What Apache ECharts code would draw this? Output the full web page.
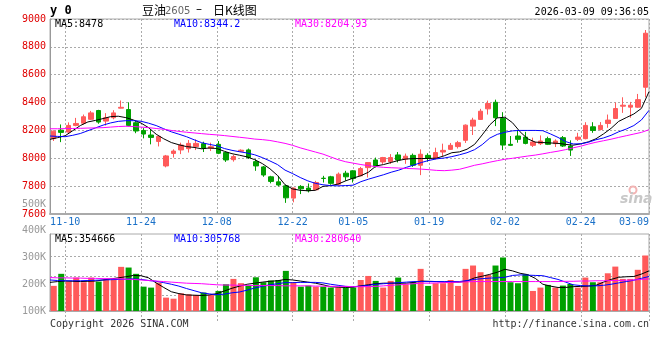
<!DOCTYPE html>
<html>
<head>
<meta charset="utf-8">
<script src="https://cdn.jsdelivr.net/npm/echarts@6/dist/echarts.min.js"></script>
<style>html,body{margin:0;padding:0;background:#fff;}#c{width:660px;height:360px;}</style>
</head>
<body>
<div id="c"></div>
<script>
const dates = ['11-06','11-07','11-10','11-11','11-12','11-13','11-14','11-17','11-18','11-19','11-20','11-21','11-24','11-25','11-26','11-27','11-28',
'12-01','12-02','12-03','12-04','12-05','12-08','12-09','12-10','12-11','12-12','12-15','12-16','12-17','12-18','12-19','12-22','12-23','12-24','12-25','12-26','12-29','12-30','12-31',
'01-05','01-06','01-07','01-08','01-09','01-12','01-13','01-14','01-15','01-16','01-19','01-20','01-21','01-22','01-23','01-26','01-27','01-28','01-29','01-30',
'02-02','02-03','02-04','02-05','02-06','02-09','02-10','02-11','02-12','02-13','02-24','02-25','02-26','02-27',
'03-02','03-03','03-04','03-05','03-06','03-09'];
const tickDates = ['11-10','11-24','12-08','12-22','01-05','01-19','02-02','02-24','03-09'];

const open = [8141,8202,8188,8236,8252,8280,8343,8267,8291,8360,
8350,8255,8200,8167,8121,7945,8035,8060,8069,8084,
8105,8072,8100,8041,7990,8050,8060,7976,7938,7867,
7831,7802,7714,7798,7786,7774,7857,7867,7814,7893,
7910,7874,7933,7988,7974,7976,8024,7993,8021,7950,
8021,7998,8045,8064,8084,8129,8231,8279,8355,8402,
8286,8100,8160,8152,8093,8105,8141,8105,8148,8088,
8136,8141,8226,8207,8250,8286,8374,8367,8367,8510];
const close = [8195,8186,8236,8250,8298,8326,8260,8291,8326,8366,
8236,8196,8174,8150,8157,8017,8052,8095,8107,8107,
8071,8083,8036,7988,8012,8058,8005,7945,7880,7834,
7808,7716,7786,7781,7767,7826,7855,7820,7886,7867,
7855,7926,7969,7945,8005,8005,7988,8015,7950,8029,
8000,8041,8057,8093,8112,8238,8274,8338,8393,8291,
8095,8093,8136,8107,8117,8124,8100,8124,8088,8059,
8152,8236,8200,8236,8274,8357,8381,8381,8421,8898];
const low = [8124,8116,8182,8230,8243,8275,8248,8235,8280,8358,
8230,8180,8143,8100,8085,7935,8005,8030,8041,8059,
8045,8052,8030,7974,7976,8045,7995,7910,7867,7820,
7798,7680,7684,7743,7755,7772,7826,7810,7805,7838,
7826,7872,7862,7933,7960,7960,7970,7960,7938,7879,
7976,7993,8017,8060,8070,8110,8167,8276,8314,8231,
8059,8088,8112,8100,8081,8095,8095,8081,8081,8017,
8124,8136,8183,8200,8219,8286,8326,8291,8362,8438];
const high = [8200,8243,8258,8290,8314,8340,8348,8324,8345,8415,
8402,8267,8217,8210,8160,8024,8064,8112,8131,8136,
8119,8112,8124,8048,8024,8064,8070,7993,7945,7874,
7874,7810,7790,7807,7819,7838,7874,7874,7898,7910,
7914,7938,7972,8005,8010,8030,8045,8034,8034,8064,
8036,8076,8105,8110,8125,8243,8291,8355,8414,8421,
8331,8160,8202,8190,8148,8164,8155,8136,8160,8129,
8183,8259,8259,8260,8314,8400,8438,8405,8462,8921];

const ma5 = [8136,8148,8162,8198,8235,8261,8272,8285,8299,8302,
8292,8275,8253,8220,8173,8140,8113,8097,8084,8078,
8068,8074,8070,8050,8033,8022,8010,7990,7962,7925,
7877,7810,7780,7770,7767,7770,7798,7804,7815,7838,
7858,7875,7900,7945,7955,7970,7985,7995,7998,7998,
7999,8001,8018,8040,8046,8065,8100,8168,8240,8290,
8295,8255,8190,8140,8116,8113,8110,8107,8100,8094,
8104,8118,8140,8175,8215,8265,8292,8318,8358,8478];
const ma10 = [8160,8157,8155,8165,8178,8198,8218,8238,8254,8265,
8270,8270,8266,8252,8235,8212,8190,8173,8155,8133,
8112,8100,8090,8070,8057,8047,8038,8025,8005,7981,
7955,7915,7890,7862,7838,7820,7810,7804,7802,7804,
7807,7832,7850,7866,7882,7900,7915,7935,7952,7970,
7985,7996,8002,8012,8025,8040,8062,8098,8145,8172,
8187,8197,8200,8200,8200,8198,8175,8150,8120,8103,
8104,8115,8133,8146,8165,8190,8210,8235,8275,8344];
const ma30 = [8212,8212,8213,8214,8215,8217,8218,8220,8224,8228,
8230,8228,8224,8220,8214,8208,8200,8193,8187,8182,
8177,8172,8168,8163,8157,8151,8145,8138,8134,8128,
8118,8107,8093,8075,8060,8045,8030,8010,7990,7975,
7965,7955,7947,7940,7935,7932,7930,7927,7925,7922,
7918,7913,7911,7915,7921,7935,7950,7960,7972,7983,
7993,8000,8008,8016,8023,8032,8042,8051,8062,8075,
8087,8102,8115,8126,8137,8150,8162,8174,8186,8205];

// volume in thousands (K)
const vol = [194,239,210,225,207.5,225,210,220,216,265,
262.5,239,191,187.5,206,150,146,166,162.5,160,
169,160,175,200,220,204,195,226,207.5,214,
216,250,207.5,191,195,191,191,187.5,187.5,187.5,
187.5,216,231,212.5,187.5,212.5,225,200,207.5,257.5,
193.75,203.75,203.75,216,193.75,257.5,270,245,235,270,
300,207.5,203.75,237.5,175,187.5,197.5,187.5,195,201,
187.5,225,207.5,207.5,241,266,220,220,254,307.5];
const volMa5 = [207,210,212,211,210,211,212,216,220,224,
228,233,232,224,205,188,172,165,160,159,
158,160,165,175,185,193,200,204,208,211,
213,218,216,212,208,204,198,191,189,188,
189,194,198,202,204,204,204,204,207,212,
211,210,208,208,208,212,224,230,237,245,
256,250,241,236,222,200,193,188,188,191,
192,193,196,208,218,226,228,229,238,250];
const volMa10 = [216,214,213,213,213,214,215,216,217,218,
219,220,218,214,211,206,200,193,184,176,
168,164,161,163,168,171,178,186,192,198,
202,206,206,207,207,207,205,200,196,192,
191,193,196,200,202,204,206,208,210,210,
210,210,210,210,210,214,218,221,223,224,
226,233,235,234,233,232,225,218,208,198,
195,194,194,196,200,205,210,215,222,229];
const volMa30 = [225,224,224,223,223,222,222,221,221,220,
219,218,216,214,212,210,208,206,204,203,
202,200,198,197,197,196,196,195,195,195,
195,194,194,194,194,193,193,192,192,192,
191,191,191,192,194,196,198,200,202,204,
204,205,206,207,208,209,210,210,210,210,
210,210,210,210,210,210,210,210,211,211,
212,212,213,213,214,214,215,216,218,220];

const RED = '#ff5a5a', GREEN = '#00a000';
const MONO = '"DejaVu Sans Mono", monospace';
const GRIDC = '#aaaaaa';
const dotted = {color: GRIDC, type: [2, 2], width: 1};
const showIdx = (i, v) => tickDates.indexOf(v) >= 0;

const chart = echarts.init(document.getElementById('c'), null, {renderer: 'canvas', width: 660, height: 360});

const txt = (text, x, y, fill, font, align) => ({
  type: 'text', x: x, y: y, silent: true, z: 100,
  style: {text: text, fill: fill, font: font, align: align || 'left', verticalAlign: 'middle'}
});

chart.setOption({
  animation: false,
  backgroundColor: '#fff',
  grid: [
    {left: 50, right: 11, top: 19, height: 195, show: true, borderColor: GRIDC, borderWidth: 1},
    {left: 50, right: 11, top: 204, height: 107, show: false},
    {left: 50, right: 11, top: 234, height: 77, show: true, borderColor: GRIDC, borderWidth: 1}
  ],
  xAxis: [
    {type: 'category', gridIndex: 0, position: 'top', data: dates, boundaryGap: true, show: false},
    {type: 'category', gridIndex: 0, position: 'bottom', data: dates, boundaryGap: false,
      axisLine: {show: true, lineStyle: {color: GRIDC, width: 2}},
      axisTick: {show: false},
      axisLabel: {interval: showIdx, color: '#1a70c8', fontFamily: MONO, fontSize: 10, margin: 3,
        formatter: v => v === '03-09' ? '{r|' + v + '}' : v,
        rich: {r: {padding: [0, 30, 0, 0], color: '#1a70c8', fontFamily: MONO, fontSize: 10}}},
      splitLine: {show: true, interval: showIdx, lineStyle: dotted}},
    {type: 'category', gridIndex: 1, position: 'top', data: dates, boundaryGap: true, show: false},
    {type: 'category', gridIndex: 1, position: 'bottom', data: dates, boundaryGap: false, show: false},
    {type: 'category', gridIndex: 2, position: 'bottom', data: dates, boundaryGap: false,
      axisLine: {show: true, lineStyle: {color: GRIDC, width: 2}},
      axisTick: {show: true, interval: showIdx, length: 11, lineStyle: dotted},
      axisLabel: {show: false},
      splitLine: {show: true, interval: showIdx, lineStyle: dotted}}
  ],
  yAxis: [
    {type: 'value', gridIndex: 0, min: 7600, max: 9000, interval: 200,
      axisLine: {show: true, lineStyle: {color: '#999'}}, axisTick: {show: false},
      axisLabel: {color: '#e00000', fontFamily: MONO, fontSize: 10, margin: 4, formatter: v => String(v)},
      splitLine: {show: true, lineStyle: dotted}},
    {type: 'value', gridIndex: 1, min: 100, max: 500, interval: 100,
      axisLine: {show: false}, axisTick: {show: false}, splitLine: {show: false},
      axisLabel: {color: '#999', fontFamily: MONO, fontSize: 10, margin: 4, formatter: v => v + 'K'}},
    {type: 'value', gridIndex: 2, min: 0, max: 77,
      axisLine: {show: true, lineStyle: {color: '#999'}},
      axisTick: {show: false, customValues: [16, 35, 55]},
      axisLabel: {show: false},
      splitLine: {show: true, lineStyle: dotted}}
  ],
  series: [
    {type: 'candlestick', xAxisIndex: 0, yAxisIndex: 0, barWidth: 5,
      data: dates.map((d, i) => [open[i], close[i], low[i], high[i]]),
      itemStyle: {color: RED, color0: GREEN, borderColor: RED, borderColor0: GREEN, borderWidth: 1}},
    {type: 'line', name: 'MA5', xAxisIndex: 1, yAxisIndex: 0, data: ma5, symbol: 'none', lineStyle: {color: '#000', width: 1}},
    {type: 'line', name: 'MA10', xAxisIndex: 1, yAxisIndex: 0, data: ma10, symbol: 'none', lineStyle: {color: '#0000ff', width: 1}},
    {type: 'line', name: 'MA30', xAxisIndex: 1, yAxisIndex: 0, data: ma30, symbol: 'none', lineStyle: {color: '#ff00ff', width: 1}},
    {type: 'bar', xAxisIndex: 2, yAxisIndex: 1, barWidth: 6,
      data: vol.map((v, i) => ({value: v, itemStyle: {color: close[i] >= open[i] ? RED : GREEN}}))},
    {type: 'line', xAxisIndex: 3, yAxisIndex: 1, data: volMa5, symbol: 'none', lineStyle: {color: '#000', width: 1}},
    {type: 'line', xAxisIndex: 3, yAxisIndex: 1, data: volMa10, symbol: 'none', lineStyle: {color: '#0000ff', width: 1}},
    {type: 'line', xAxisIndex: 3, yAxisIndex: 1, data: volMa30, symbol: 'none', lineStyle: {color: '#ff00ff', width: 1}}
  ],
  graphic: [
    txt('y 0', 50, 11, '#000', 'bold 12px ' + MONO),
    txt('豆油', 142, 10, '#000', '12px "Noto Sans CJK SC"'),
    txt('2605', 165, 11, '#666', '10px "DejaVu Sans"'),
    txt('–', 196, 10, '#000', '12px "DejaVu Sans"'),
    txt('日K线图', 213, 10, '#000', '12px "Noto Sans CJK SC"'),
    txt('2026-03-09 09:36:05', 649, 12, '#000', '10px ' + MONO, 'right'),
    txt('MA5:8478', 55, 24, '#000', '10px ' + MONO),
    txt('MA10:8344.2', 174, 24, '#0000ff', '10px ' + MONO),
    txt('MA30:8204.93', 295, 24, '#ff00ff', '10px ' + MONO),
    txt('MA5:354666', 55, 239, '#000', '10px ' + MONO),
    txt('MA10:305768', 174, 239, '#0000ff', '10px ' + MONO),
    txt('MA30:280640', 295, 239, '#ff00ff', '10px ' + MONO),
    txt('Copyright 2026 SINA.COM', 50, 324, '#333', '10px ' + MONO),
    txt('http://finance.sina.com.cn', 649, 324, '#333', '10px ' + MONO, 'right'),
    {type: 'circle', silent: true, z: 90, shape: {cx: 633, cy: 190, r: 3.5}, style: {fill: 'none', stroke: '#f3b4b4', lineWidth: 2}},
    txt('sina', 620, 199, '#c8c8c8', 'italic bold 14px "DejaVu Sans"')
  ]
});
</script>
</body>
</html>
